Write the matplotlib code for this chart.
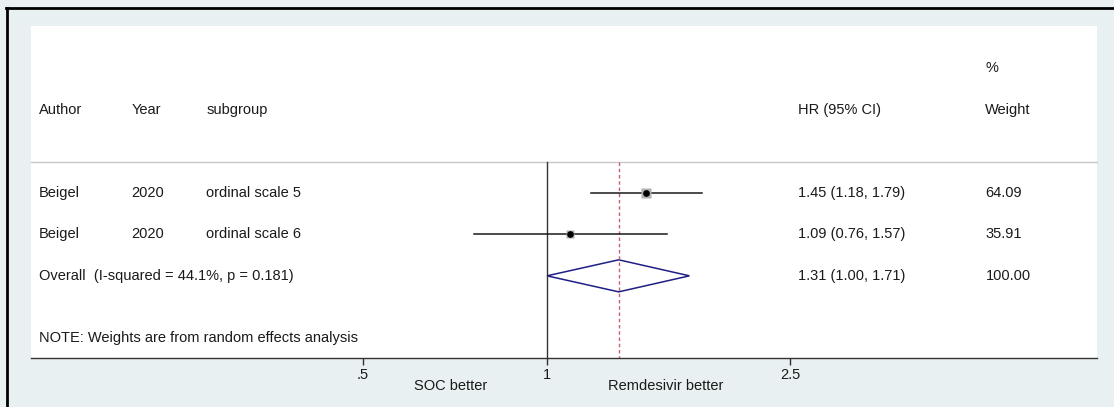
import matplotlib
matplotlib.use("Agg")
import matplotlib.pyplot as plt
from matplotlib.lines import Line2D
from matplotlib.patches import Polygon
from matplotlib.ticker import FixedLocator, FixedFormatter, NullLocator

# ---- data ----
authors = ["Beigel", "Beigel"]
years = ["2020", "2020"]
subgroups = ["ordinal scale 5", "ordinal scale 6"]
hr = [1.45, 1.09]
lo = [1.18, 0.76]
hi = [1.79, 1.57]
weights = [64.09, 35.91]
overall_hr = 1.31
overall_lo = 1.00
overall_hi = 1.71
overall_label = "Overall  (I-squared = 44.1%, p = 0.181)"
note = "NOTE: Weights are from random effects analysis"
tick_vals = [0.5, 1, 2.5]
tick_labels = [".5", "1", "2.5"]

plt.rcParams['font.family'] = ['Liberation Sans', 'DejaVu Sans']
FS = 10.5
TC = '#1a1a1a'
bg = '#e8f0f2'

fig = plt.figure(figsize=(11.14, 4.07), dpi=100, facecolor=bg)
ax = fig.add_axes([31/1114, 49/407, 1066/1114, 332/407])
ax.set_facecolor('white')
ax.set_xscale('log')
ax.set_xlim(0.1432, 7.937)
ax.set_ylim(4.98, -3.02)

for s in ['top', 'right', 'left']:
    ax.spines[s].set_visible(False)
ax.spines['bottom'].set_color('#333333')
ax.spines['bottom'].set_linewidth(1.0)
ax.yaxis.set_major_locator(NullLocator())
ax.xaxis.set_major_locator(FixedLocator(tick_vals))
ax.xaxis.set_major_formatter(FixedFormatter(tick_labels))
ax.xaxis.set_minor_locator(NullLocator())
ax.tick_params(axis='x', length=5, width=1, color='#333333', labelsize=FS, labelcolor=TC, pad=2)

tr = ax.get_yaxis_transform()  # x axes-frac, y data
line_y = 0.253
ax.plot([0, 1], [line_y, line_y], transform=tr, color='#c8c8c8', lw=1.0, clip_on=False)

# reference line at 1 and overall dashed line
ax.plot([1, 1], [line_y, 4.98], color='#333333', lw=1.0)
ax.plot([overall_hr, overall_hr], [line_y, 4.98], color='#c86070', lw=1.0, ls=(0, (2.5, 2)))

rows = [1, 2]
for r, h, l, u, w in zip(rows, hr, lo, hi, weights):
    ax.plot([l, u], [r, r], color='#1a1a1a', lw=1.1)
    ax.plot([h], [r], marker='s', ms=7.0 * (w / 64.09) ** 0.5, color='#b0b0b0', mec='none', ls='none')
    ax.plot([h], [r], marker='o', ms=3.8, color='black', ls='none')

orow = 3
hh = 0.386
diamond = Polygon([[overall_lo, orow], [overall_hr, orow - hh], [overall_hi, orow], [overall_hr, orow + hh]],
                  closed=True, fill=False, edgecolor='#1f1f85', lw=1.1)
ax.add_patch(diamond)

# text columns
xa, xy, xs, xh, xw = 0.0072, 0.0945, 0.1643, 0.7197, 0.8953
kw = dict(transform=tr, fontsize=FS, va='center', color=TC)
ax.text(xw, -2.01, "%", **kw)
ax.text(xa, -1.0, "Author", **kw)
ax.text(xy, -1.0, "Year", **kw)
ax.text(xs, -1.0, "subgroup", **kw)
ax.text(xh, -1.0, "HR (95% CI)", **kw)
ax.text(xw, -1.0, "Weight", **kw)
for r, a, yv, sg, h, l, u, w in zip(rows, authors, years, subgroups, hr, lo, hi, weights):
    ax.text(xa, r, a, **kw)
    ax.text(xy, r, yv, **kw)
    ax.text(xs, r, sg, **kw)
    ax.text(xh, r, f"{h:.2f} ({l:.2f}, {u:.2f})", **kw)
    ax.text(xw, r, f"{w:.2f}", **kw)
ax.text(xa, orow, overall_label, **kw)
ax.text(xh, orow, f"{overall_hr:.2f} ({overall_lo:.2f}, {overall_hi:.2f})", **kw)
ax.text(xw, orow, "100.00", **kw)
ax.text(xa, 4.49, note, **kw)

# bottom direction labels
fig.text(451/1114, 1 - 386/407, "SOC better", ha='center', va='center', fontsize=FS, color=TC)
fig.text(666/1114, 1 - 386/407, "Remdesivir better", ha='center', va='center', fontsize=FS, color=TC)

# outer frame lines (top and left)
fig.add_artist(Line2D([6/1114, 1], [1 - 7.5/407, 1 - 7.5/407], transform=fig.transFigure, color='black', lw=2))
fig.add_artist(Line2D([6.5/1114, 6.5/1114], [0, 1 - 7.5/407], transform=fig.transFigure, color='black', lw=2))

fig.savefig("out.png", dpi=100, facecolor=bg)
